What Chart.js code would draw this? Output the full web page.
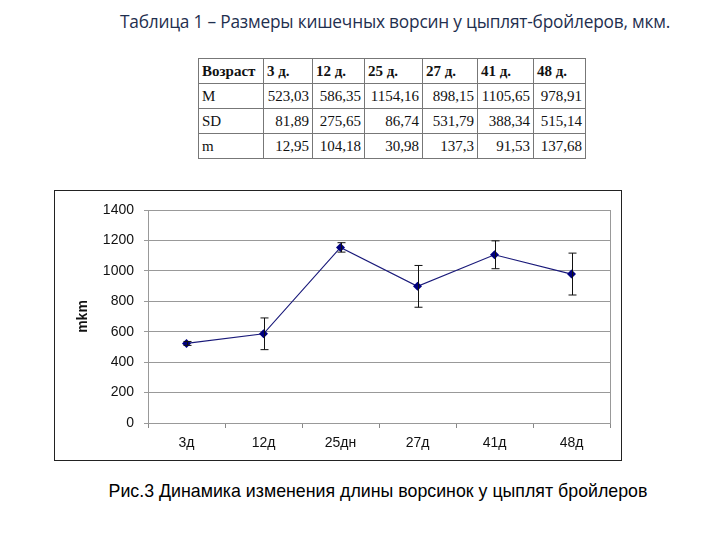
<!DOCTYPE html>
<html>
<head>
<meta charset="utf-8">
<script src="https://cdn.jsdelivr.net/npm/chart.js@4"></script>
<style>
  html, body { margin: 0; padding: 0; background: #fff; }
  body { width: 720px; height: 540px; position: relative; overflow: hidden; }
  #title { position: absolute; left: 0; width: 790px; top: 10px; text-align: center; white-space: nowrap;
    font-family: "Open Sans", "Noto Sans", sans-serif; font-size: 17.3px; color: #1f2f4f; letter-spacing: -0.2px; }
  #caption { position: absolute; left: 0; width: 756px; top: 481px; text-align: center; white-space: nowrap;
    font-family: "Liberation Sans", Arial, sans-serif; font-size: 17.8px; color: #000; }
  table { position: absolute; left: 198px; top: 58px; border-collapse: collapse; table-layout: fixed;
    font-family: "Liberation Serif", "Times New Roman", serif; font-size: 15px; color: #111; }
  td { border: 1px solid #777; height: 25px; padding: 0 3px; box-sizing: border-box; white-space: nowrap; }
  td.num { text-align: right; }
  tr.head td { font-weight: bold; text-align: left; }
  #box { position: absolute; left: 54px; top: 190px; width: 566px; height: 269px; border: 1px solid #222; }
  #box canvas { position: absolute; left: 0; top: 0; }
</style>
</head>
<body>
<div id="title">Таблица 1 – Размеры кишечных ворсин у цыплят-бройлеров, мкм.</div>
<table id="tbl"></table>
<div id="box"><canvas id="c" width="566" height="269"></canvas></div>
<div id="caption">Рис.3 Динамика изменения длины ворсинок у цыплят бройлеров</div>
<script>
const categories = ['3д', '12д', '25дн', '27д', '41д', '48д'];
const tableHeaders = ['3 д.', '12 д.', '25 д.', '27 д.', '41 д.', '48 д.'];
const meanValues = [523.03, 586.35, 1154.16, 898.15, 1105.65, 978.91];
const sdValues = [81.89, 275.65, 86.74, 531.79, 388.34, 515.14];
const semValues = [12.95, 104.18, 30.98, 137.3, 91.53, 137.68];
const yTicks = [0, 200, 400, 600, 800, 1000, 1200, 1400];

// build table
const colWidths = [65, 49, 52, 58, 55, 56, 52];
const fmt = v => String(v).replace('.', ',');
const tbl = document.getElementById('tbl');
function addRow(label, vals, cls) {
  const tr = document.createElement('tr');
  if (cls) tr.className = cls;
  const cells = [label].concat(vals);
  cells.forEach((t, i) => {
    const td = document.createElement('td');
    td.textContent = t;
    td.style.width = colWidths[i] + 'px';
    if (!cls && i > 0) td.className = 'num';
    tr.appendChild(td);
  });
  tbl.appendChild(tr);
}
addRow('Возраст', tableHeaders, 'head');
addRow('M', meanValues.map(fmt));
addRow('SD', sdValues.map(fmt));
addRow('m', semValues.map(fmt));

const errorBars = {
  id: 'errorBars',
  afterDatasetsDraw(chart) {
    const ctx = chart.ctx, x = chart.scales.x, y = chart.scales.y;
    ctx.save();
    ctx.strokeStyle = '#111';
    ctx.lineWidth = 1;
    meanValues.forEach((m, i) => {
      const px = Math.round(x.getPixelForValue(i)) + 0.5;
      const top = y.getPixelForValue(m + semValues[i]);
      const bot = y.getPixelForValue(m - semValues[i]);
      ctx.beginPath();
      ctx.moveTo(px, top); ctx.lineTo(px, bot);
      ctx.moveTo(px - 4, top); ctx.lineTo(px + 4, top);
      ctx.moveTo(px - 4, bot); ctx.lineTo(px + 4, bot);
      ctx.stroke();
    });
    ctx.restore();
  }
};
const plotBorder = {
  id: 'plotBorder',
  beforeDatasetsDraw(chart) {
    const a = chart.chartArea, ctx = chart.ctx;
    ctx.save();
    ctx.strokeStyle = '#999';
    ctx.lineWidth = 1;
    ctx.strokeRect(Math.round(a.left) + 0.5, Math.round(a.top) + 0.5,
      Math.round(a.right - a.left), Math.round(a.bottom - a.top));
    ctx.restore();
  }
};

new Chart(document.getElementById('c'), {
  type: 'line',
  data: {
    labels: categories,
    datasets: [{
      data: meanValues,
      borderColor: '#1a1a7a',
      backgroundColor: '#000080',
      borderWidth: 1.2,
      pointStyle: 'rectRot',
      pointRadius: 4.5,
      pointBorderWidth: 0,
      pointBackgroundColor: '#000080',
      tension: 0
    }]
  },
  options: {
    responsive: false,
    animation: false,
    events: [],
    layout: { padding: { top: 19, right: 11, left: 0, bottom: 0 } },
    plugins: { legend: { display: false }, tooltip: { enabled: false } },
    scales: {
      x: {
        type: 'category',
        offset: true,
        grid: { offset: true, drawOnChartArea: false, drawTicks: true, tickLength: 5, color: '#888' },
        border: { color: '#888' },
        ticks: { color: '#111', font: { family: 'Liberation Sans', size: 14 }, padding: 7, maxRotation: 0 },
        afterFit(s) { s.height = 37; }
      },
      y: {
        min: 0, max: 1400,
        afterBuildTicks(s) { s.ticks = yTicks.map(v => ({ value: v })); },
        grid: { color: '#999', tickLength: 4 },
        border: { color: '#888' },
        ticks: { color: '#111', font: { family: 'Liberation Sans', size: 14 }, padding: 10,
          callback: v => String(v) },
        title: { display: true, text: 'mkm', color: '#111', font: { family: 'Liberation Sans', size: 14, weight: 'bold' }, padding: { top: 20, bottom: 0 } },
        afterFit(s) { s.width = 93; }
      }
    }
  },
  plugins: [plotBorder, errorBars]
});
</script>
</body>
</html>
